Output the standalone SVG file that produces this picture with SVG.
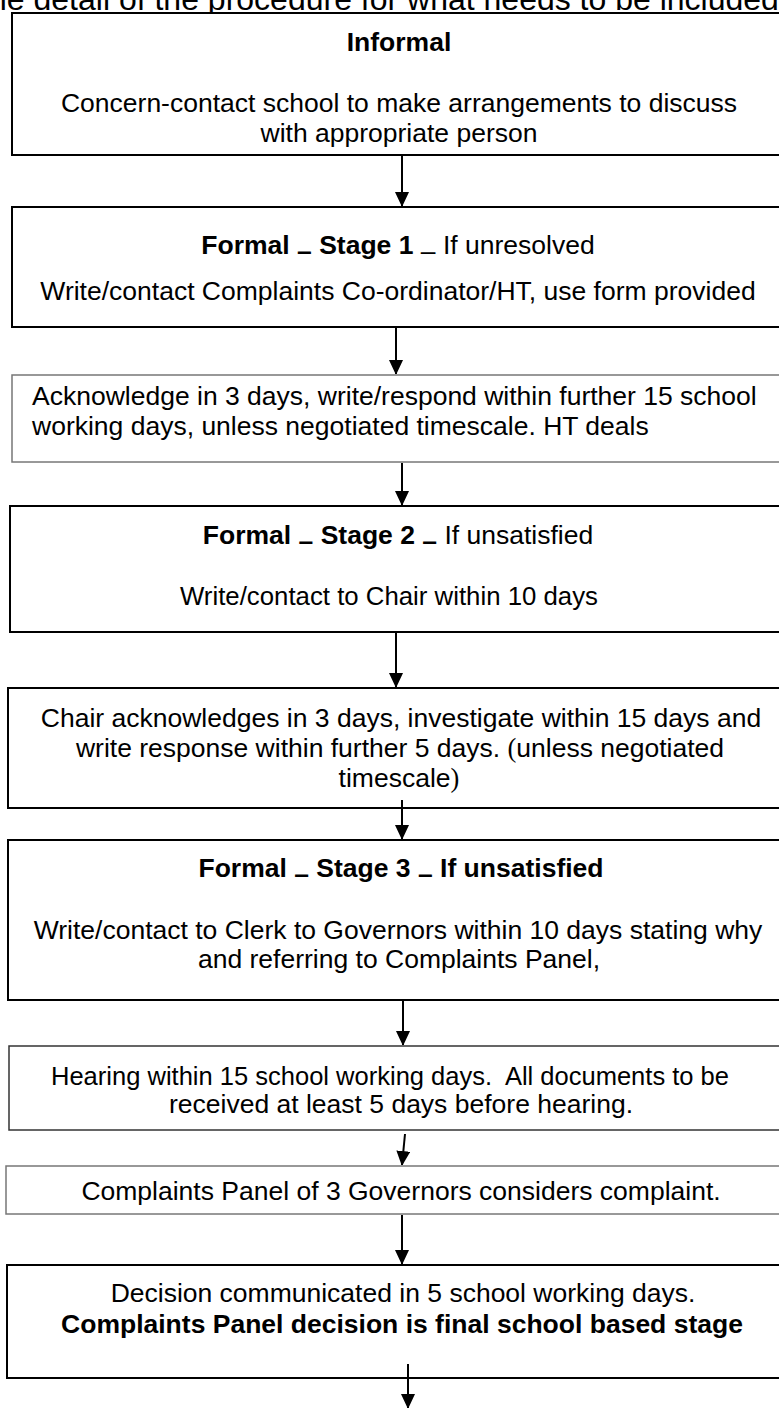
<svg xmlns="http://www.w3.org/2000/svg" width="779" height="1408" viewBox="0 0 779 1408">
<style>
text{font-family:"Liberation Sans",Arial,sans-serif;font-size:26.5px;fill:#000}
.c{text-anchor:middle}
.b{font-weight:bold}
.box{fill:#fff;stroke:#000;stroke-width:2}
.thin{fill:#fff;stroke:#777;stroke-width:1.5}
.mid{fill:#fff;stroke:#333;stroke-width:1.5}
.conn line{stroke:#000;stroke-width:2}
.paren{font-family:"Liberation Serif","Times New Roman",serif}
</style>
<defs>
<marker id="ah" markerWidth="14" markerHeight="16" refX="14" refY="7" orient="auto" markerUnits="userSpaceOnUse">
<path d="M0,0 L15,7 L0,14 Z" fill="#000"/>
</marker>
</defs>
<text x="-11" y="10" style="font-size:32px">he detail of the procedure for what needs to be included</text>
<g id="n1">
<rect class="box" x="12" y="13" width="790" height="142"/>
<text class="c b" x="399" y="51">Informal</text>
<text class="c" x="399" y="112">Concern-contact school to make arrangements to discuss</text>
<text class="c" x="399" y="142">with appropriate person</text>
</g>
<g id="n2">
<rect class="box" x="12" y="207" width="790" height="120"/>
<text class="c" x="398" y="254"><tspan class="b">Formal </tspan><tspan class="b" dy="6">–</tspan><tspan class="b" dy="-6"> Stage 1 </tspan><tspan dy="6">–</tspan><tspan dy="-6"> If unresolved</tspan></text>
<text class="c" x="398" y="300">Write/contact Complaints Co-ordinator/HT, use form provided</text>
</g>
<g id="n3">
<rect class="thin" x="12" y="375" width="790" height="87"/>
<text x="32" y="405">Acknowledge in 3 days, write/respond within further 15 school</text>
<text x="32" y="435">working days, unless negotiated timescale. HT deals</text>
</g>
<g id="n4">
<rect class="box" x="10" y="506" width="790" height="126"/>
<text class="c" x="398" y="544"><tspan class="b">Formal </tspan><tspan class="b" dy="6">–</tspan><tspan class="b" dy="-6"> Stage 2 </tspan><tspan class="b" dy="6">–</tspan><tspan dy="-6"> If unsatisfied</tspan></text>
<text class="c" x="389" y="605" textLength="418" lengthAdjust="spacingAndGlyphs">Write/contact to Chair within 10 days</text>
</g>
<g id="n5">
<rect class="box" x="8" y="688" width="790" height="120"/>
<text class="c" x="401" y="727">Chair acknowledges in 3 days, investigate within 15 days and</text>
<text class="c" x="400" y="757">write response within further 5 days. <tspan class="paren">(</tspan>unless negotiated</text>
<text class="c" x="399" y="787">timescale<tspan class="paren">)</tspan></text>
</g>
<g id="n6">
<rect class="box" x="8" y="840" width="790" height="160"/>
<text class="c b" x="401" y="877">Formal <tspan dy="6">–</tspan><tspan dy="-6"> Stage 3 </tspan><tspan dy="6">–</tspan><tspan dy="-6"> If unsatisfied</tspan></text>
<text class="c" x="398" y="939">Write/contact to Clerk to Governors within 10 days stating why</text>
<text class="c" x="399" y="968">and referring to Complaints Panel,</text>
</g>
<g id="n7">
<rect class="mid" x="9" y="1046" width="790" height="84"/>
<text class="c" x="390" y="1085" xml:space="preserve" textLength="678" lengthAdjust="spacingAndGlyphs">Hearing within 15 school working days.  All documents to be</text>
<text class="c" x="401" y="1113">received at least 5 days before hearing.</text>
</g>
<g id="n8">
<rect class="thin" x="6" y="1166" width="790" height="48"/>
<text class="c" x="401" y="1200">Complaints Panel of 3 Governors considers complaint.</text>
</g>
<g id="n9">
<rect class="box" x="7" y="1265" width="790" height="113"/>
<text class="c" x="403" y="1302">Decision communicated in 5 school working days.</text>
<text class="c b" x="402" y="1333">Complaints Panel decision is final school based stage</text>
</g>
<g class="conn" id="connectors">
<line x1="402" y1="156" x2="402" y2="206" marker-end="url(#ah)"/>
<line x1="396" y1="328" x2="396" y2="374" marker-end="url(#ah)"/>
<line x1="402" y1="463" x2="402" y2="505" marker-end="url(#ah)"/>
<line x1="396" y1="633" x2="396" y2="687" marker-end="url(#ah)"/>
<line x1="402" y1="800" x2="402" y2="839" marker-end="url(#ah)"/>
<line x1="403" y1="1001" x2="403" y2="1045" marker-end="url(#ah)"/>
<line x1="405" y1="1134" x2="402" y2="1165" marker-end="url(#ah)"/>
<line x1="402" y1="1215" x2="402" y2="1264" marker-end="url(#ah)"/>
<line x1="408" y1="1364" x2="408" y2="1408" marker-end="url(#ah)"/>
</g>
</svg>
